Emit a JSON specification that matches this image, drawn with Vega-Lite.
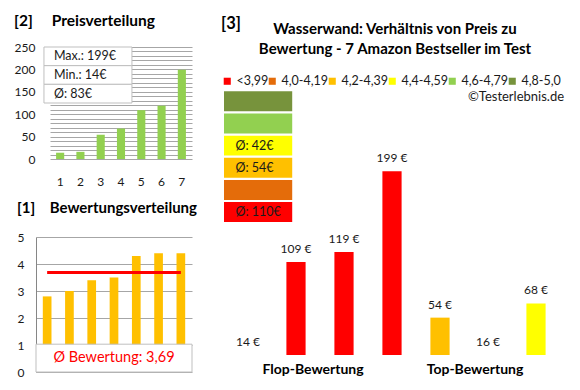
{
  "$schema": "https://vega.github.io/schema/vega-lite/v6.json",
  "background": "white",
  "padding": {"left": 14, "top": 13, "right": 5, "bottom": 5},
  "bounds": "full",
  "align": "none",
  "spacing": 24,
  "resolve": {"scale": {"color": "independent"}, "legend": {"color": "independent"}},
  "config": {
    "font": "Lato",
    "view": {"stroke": null},
    "title": {"font": "Lato", "fontWeight": "bold", "color": "#000000"},
    "axis": {"labelFont": "Lato", "labelFontSize": 12, "labelColor": "#1a1a1a", "gridColor": "#a6a6a6", "gridWidth": 1, "domainColor": "#868686", "ticks": false, "labelOverlap": false},
    "legend": {"gridAlign": "none", "columnPadding": -3},
    "locale": {"number": {"decimal": ",", "thousands": ".", "grouping": [3], "currency": ["", " €"]}}
  },
  "hconcat": [
    {
      "vconcat": [
        {
          "width": 156,
          "height": 112,
          "title": {"text": "[2]\u00a0\u00a0\u00a0\u00a0\u00a0Preisverteilung", "anchor": "start", "fontSize": 15.5, "offset": 12},
          "layer": [
            {
              "data": {"values": [
                {"rang": 1, "preis": 14}, {"rang": 2, "preis": 16}, {"rang": 3, "preis": 54},
                {"rang": 4, "preis": 68}, {"rang": 5, "preis": 109}, {"rang": 6, "preis": 119},
                {"rang": 7, "preis": 199}
              ]},
              "mark": {"type": "bar", "color": "#92D050", "width": {"band": 0.4}},
              "encoding": {
                "x": {"field": "rang", "type": "ordinal", "scale": {"range": [14, 156], "paddingInner": 0, "paddingOuter": 0},
                      "axis": {"title": null, "labelAngle": 0, "labelPadding": 17, "domain": false, "grid": false}},
                "y": {"field": "preis", "type": "quantitative", "scale": {"domain": [0, 250], "nice": false},
                      "axis": {"title": null, "orient": "left", "values": [0,10,20,30,40,50,60,70,80,90,100,110,120,130,140,150,160,170,180,190,200,210,220,230,240,250],
                               "labelExpr": "datum.value % 50 === 0 ? datum.label : ''", "labelPadding": 1, "grid": true, "domain": false}}
              }
            },
            {
              "data": {"values": [{"stat": "Max.: 199€"}, {"stat": "Min.: 14€"}, {"stat": "Ø: 83€"}]},
              "layer": [
                {
                  "mark": {"type": "bar", "fill": "white", "stroke": "#bfbfbf", "strokeWidth": 1},
                  "encoding": {
                    "x": {"datum": 0.051, "type": "quantitative", "scale": {"domain": [0, 1]}, "axis": null},
                    "x2": {"datum": 0.615},
                    "y": {"field": "stat", "type": "nominal", "scale": {"domain": ["Max.: 199€", "Min.: 14€", "Ø: 83€", "-4", "-5", "-6"], "paddingInner": 0, "paddingOuter": 0}, "axis": null}
                  }
                },
                {
                  "mark": {"type": "text", "align": "left", "fontSize": 12.5, "color": "#1a1a1a"},
                  "encoding": {
                    "x": {"datum": 0.115, "type": "quantitative"},
                    "y": {"field": "stat", "type": "nominal"},
                    "text": {"field": "stat"}
                  }
                }
              ]
            }
          ],
          "resolve": {"scale": {"x": "independent", "y": "independent"}}
        },
        {
          "width": 156,
          "height": 135,
          "title": {"text": "[1]\u00a0\u00a0\u00a0\u00a0Bewertungsverteilung", "anchor": "start", "fontSize": 15, "offset": 15},
          "data": {"values": [
            {"rang": 1, "bewertung": 2.8}, {"rang": 2, "bewertung": 3.0}, {"rang": 3, "bewertung": 3.4},
            {"rang": 4, "bewertung": 3.5}, {"rang": 5, "bewertung": 4.3}, {"rang": 6, "bewertung": 4.4},
            {"rang": 7, "bewertung": 4.4}
          ]},
          "layer": [
            {
              "mark": {"type": "bar", "color": "#FFC000", "width": {"band": 0.39}},
              "encoding": {
                "x": {"field": "rang", "type": "ordinal", "scale": {"domain": [1, 2, 3, 4, 5, 6, 7], "paddingInner": 0, "paddingOuter": 0}, "axis": null},
                "y": {"field": "bewertung", "type": "quantitative", "scale": {"domain": [0, 5], "nice": false},
                      "axis": {"title": null, "orient": "left", "tickCount": 25, "format": "d",
                               "labelExpr": "abs(datum.value - round(datum.value)) < 0.001 ? datum.label : ''", "labelPadding": 12, "grid": true, "domain": true}}
              }
            },
            {
              "mark": {"type": "rule", "color": "#ff0000", "strokeWidth": 3},
              "encoding": {
                "x": {"datum": 1, "type": "ordinal", "scale": {"domain": [1, 2, 3, 4, 5, 6, 7], "paddingInner": 0, "paddingOuter": 0}, "axis": null},
                "x2": {"datum": 7},
                "y": {"aggregate": "mean", "field": "bewertung", "type": "quantitative", "scale": {"domain": [0, 5], "nice": false}, "axis": null}
              }
            },
            {
              "data": {"values": [{"text": "Ø Bewertung: 3,69"}]},
              "mark": {"type": "bar", "fill": "white", "stroke": "#bfbfbf", "strokeWidth": 1},
              "encoding": {
                "x": {"datum": 0, "type": "quantitative", "scale": {"domain": [0, 1]}, "axis": null},
                "x2": {"datum": 1},
                "y": {"datum": 0, "type": "quantitative", "scale": {"domain": [0, 5], "nice": false}, "axis": null},
                "y2": {"datum": 1.03}
              }
            },
            {
              "data": {"values": [{"text": "Ø Bewertung: 3,69"}]},
              "mark": {"type": "text", "color": "#ff0000", "fontSize": 14.5},
              "encoding": {
                "x": {"datum": 0.5, "type": "quantitative", "scale": {"domain": [0, 1]}, "axis": null},
                "y": {"datum": 0.52, "type": "quantitative", "scale": {"domain": [0, 5], "nice": false}, "axis": null},
                "text": {"field": "text"}
              }
            }
          ],
          "resolve": {"scale": {"x": "independent", "y": "independent"}}
        }
      ],
      "spacing": 14,
      "align": "none",
      "bounds": "full"
    },
    {
      "title": {"text": "[3]", "anchor": "start", "fontSize": 16.5, "offset": -10},
      "resolve": {"scale": {"color": "independent"}, "legend": {"color": "independent"}},
      "vconcat": [
        {
          "width": 336,
          "height": 308,
          "title": {"text": ["Wasserwand: Verhältnis von Preis zu", "Bewertung - 7 Amazon Bestseller im Test"], "anchor": "middle", "frame": "group", "dx": 3, "fontSize": 15, "lineHeight": 20, "offset": -10},
          "layer": [
            {
              "layer": [
                {
                  "data": {"values": [
                    {"nr": 1, "preis": 14, "klasse": "<3,99"},
                    {"nr": 2, "preis": 109, "klasse": "<3,99"},
                    {"nr": 3, "preis": 119, "klasse": "<3,99"},
                    {"nr": 4, "preis": 199, "klasse": "<3,99"},
                    {"nr": 5, "preis": 54, "klasse": "4,2-4,39"},
                    {"nr": 6, "preis": 16, "klasse": "4,4-4,59"},
                    {"nr": 7, "preis": 68, "klasse": "4,4-4,59"}
                  ]},
                  "layer": [
                    {
                      "mark": {"type": "bar", "width": {"band": 0.4}, "clip": true},
                      "encoding": {
                        "x": {"field": "nr", "type": "ordinal", "scale": {"paddingInner": 0, "paddingOuter": 0}, "axis": null},
                        "y": {"field": "preis", "type": "quantitative", "scale": {"domain": [17, 322], "zero": false, "nice": false, "clamp": true}, "axis": null},
                        "color": {"field": "klasse", "type": "nominal",
                                  "scale": {"domain": ["<3,99", "4,0-4,19", "4,2-4,39", "4,4-4,59", "4,6-4,79", "4,8-5,0"],
                                            "range": ["#FF0000", "#E46C0A", "#FFC000", "#FFFF00", "#92D050", "#77933C"]},
                                  "legend": {"orient": "none", "legendX": -3, "legendY": 28, "direction": "horizontal", "columns": 6, "gridAlign": "none", "title": null,
                                             "symbolType": "square", "symbolSize": 50, "symbolStrokeWidth": 0, "labelFontSize": 12.5, "labelOffset": 3,
                                             "columnPadding": -3, "padding": 0, "labelColor": "#1a1a1a", "labelFont": "Lato"}}
                      }
                    },
                    {
                      "mark": {"type": "text", "fontSize": 12, "baseline": "alphabetic", "dy": -9, "color": "#1a1a1a"},
                      "encoding": {
                        "x": {"field": "nr", "type": "ordinal"},
                        "y": {"field": "preis", "type": "quantitative"},
                        "text": {"field": "preis", "type": "quantitative", "format": "$d"}
                      }
                    }
                  ]
                },
                {
                  "data": {"values": [{"gruppe": "Flop-Bewertung"}]},
                  "mark": {"type": "text", "fontSize": 14, "fontWeight": "bold", "dx": 17, "dy": 15, "color": "#000000"},
                  "encoding": {"x": {"datum": 2, "type": "ordinal"}, "y": {"datum": 17, "type": "quantitative"}, "text": {"field": "gruppe"}}
                },
                {
                  "data": {"values": [{"gruppe": "Top-Bewertung"}]},
                  "mark": {"type": "text", "fontSize": 14, "fontWeight": "bold", "dx": -13, "dy": 15, "color": "#000000"},
                  "encoding": {"x": {"datum": 6, "type": "ordinal"}, "y": {"datum": 17, "type": "quantitative"}, "text": {"field": "gruppe"}}
                }
              ]
            },
            {
              "layer": [
                {
                  "data": {"values": [
                    {"klasse": "4,8-5,0", "schnitt": ""},
                    {"klasse": "4,6-4,79", "schnitt": ""},
                    {"klasse": "4,4-4,59", "schnitt": "Ø: 42€"},
                    {"klasse": "4,2-4,39", "schnitt": "Ø: 54€"},
                    {"klasse": "4,0-4,19", "schnitt": ""},
                    {"klasse": "<3,99", "schnitt": "Ø: 110€"}
                  ]},
                  "layer": [
                    {
                      "mark": {"type": "bar"},
                      "encoding": {
                        "x": {"datum": 0, "type": "quantitative", "scale": {"domain": [0, 1]}, "axis": null},
                        "x2": {"datum": 0.203},
                        "y": {"field": "klasse", "type": "nominal",
                              "scale": {"domain": ["-1", "-2", "4,8-5,0", "4,6-4,79", "4,4-4,59", "4,2-4,39", "4,0-4,19", "<3,99", "-7", "-8", "-9", "-10", "-11", "-12"], "paddingInner": 0.1, "paddingOuter": 0},
                              "axis": null},
                        "color": {"field": "klasse", "type": "nominal"}
                      }
                    },
                    {
                      "mark": {"type": "text", "align": "left", "fontSize": 12.5, "color": "#1a1a1a"},
                      "encoding": {
                        "x": {"datum": 0.034, "type": "quantitative"},
                        "y": {"field": "klasse", "type": "nominal"},
                        "text": {"field": "schnitt"}
                      }
                    }
                  ]
                },
                {
                  "data": {"values": [{"quelle": "©Testerlebnis.de"}]},
                  "mark": {"type": "text", "align": "right", "fontSize": 13, "dy": -4, "color": "#1a1a1a"},
                  "encoding": {
                    "x": {"datum": 1.012, "type": "quantitative"},
                    "y": {"datum": "4,8-5,0", "type": "nominal"},
                    "text": {"field": "quelle"}
                  }
                }
              ]
            }
          ],
          "resolve": {"scale": {"x": "independent", "y": "independent"}}
        }
      ]
    }
  ]
}
